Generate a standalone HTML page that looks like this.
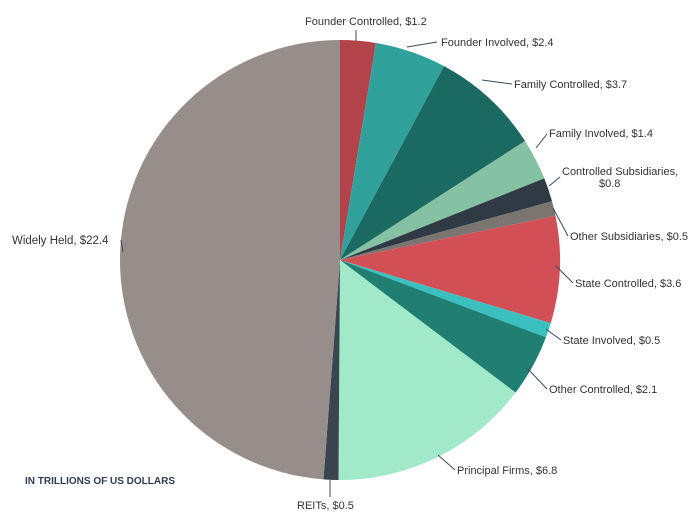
<!DOCTYPE html>
<html><head><meta charset="utf-8"><style>
body{margin:0;background:#fff;}
svg text{font-family:"Liberation Sans",sans-serif;font-size:11px;fill:#333;}
</style></head><body>
<svg id="s" width="694" height="515" viewBox="0 0 694 515" xmlns="http://www.w3.org/2000/svg">
<g id="pie"></g>
<g stroke="#3a4a5a" stroke-width="1" fill="none">
<path d="M356 41 L356 30"/>
<path d="M407 47 L437 42"/>
<path d="M482 80 L512 84"/>
<path d="M536 148 L547 134"/>
<path d="M549 186 L560 177"/>
<path d="M553 208 L568 236"/>
<path d="M556 266 L573 283"/>
<path d="M546 329 L561 340"/>
<path d="M527 368 L547 389"/>
<path d="M438 455 L455 470"/>
<path d="M330 480 L330 497"/>
<path d="M121 240 L123 252"/>
</g>
<text x="305" y="25">Founder Controlled, $1.2</text>
<text x="441" y="46">Founder Involved, $2.4</text>
<text x="514" y="88">Family Controlled, $3.7</text>
<text x="549" y="137">Family Involved, $1.4</text>
<text x="562" y="175">Controlled Subsidiaries,</text>
<text x="599" y="187">$0.8</text>
<text x="570" y="240">Other Subsidiaries, $0.5</text>
<text x="575" y="287">State Controlled, $3.6</text>
<text x="563" y="344">State Involved, $0.5</text>
<text x="549" y="393">Other Controlled, $2.1</text>
<text x="457" y="474">Principal Firms, $6.8</text>
<text x="297" y="509">REITs, $0.5</text>
<text x="12" y="244" style="font-size:11.5px">Widely Held, $22.4</text>
<text x="25" y="484" style="font-size:10px;font-weight:bold;fill:#2d3e50">IN TRILLIONS OF US DOLLARS</text>
</svg>
<script>
var v=[1.2,2.4,3.7,1.4,0.8,0.5,3.6,0.5,2.1,6.8,0.5,22.4];
var c=["#b2434a","#31a19b","#1b6a62","#85c2a4","#2f3a44","#7a7570","#d14f55","#3bbfbf","#217e72","#a1e9c8","#3a4550","#958e8a"];
var cx=340,cy=260,r=220,t=0,s=0;v.forEach(function(x){t+=x});
var g=document.getElementById("pie"),h="";
v.forEach(function(x,i){var a0=s/t*2*Math.PI,a1=(s+x)/t*2*Math.PI;s+=x;
var x0=cx+r*Math.sin(a0),y0=cy-r*Math.cos(a0),x1=cx+r*Math.sin(a1),y1=cy-r*Math.cos(a1);
h+='<path d="M'+cx+' '+cy+' L'+x0+' '+y0+' A'+r+' '+r+' 0 '+((a1-a0)>Math.PI?1:0)+' 1 '+x1+' '+y1+' Z" fill="'+c[i]+'"/>';});
g.innerHTML=h;
</script>
</body></html>
